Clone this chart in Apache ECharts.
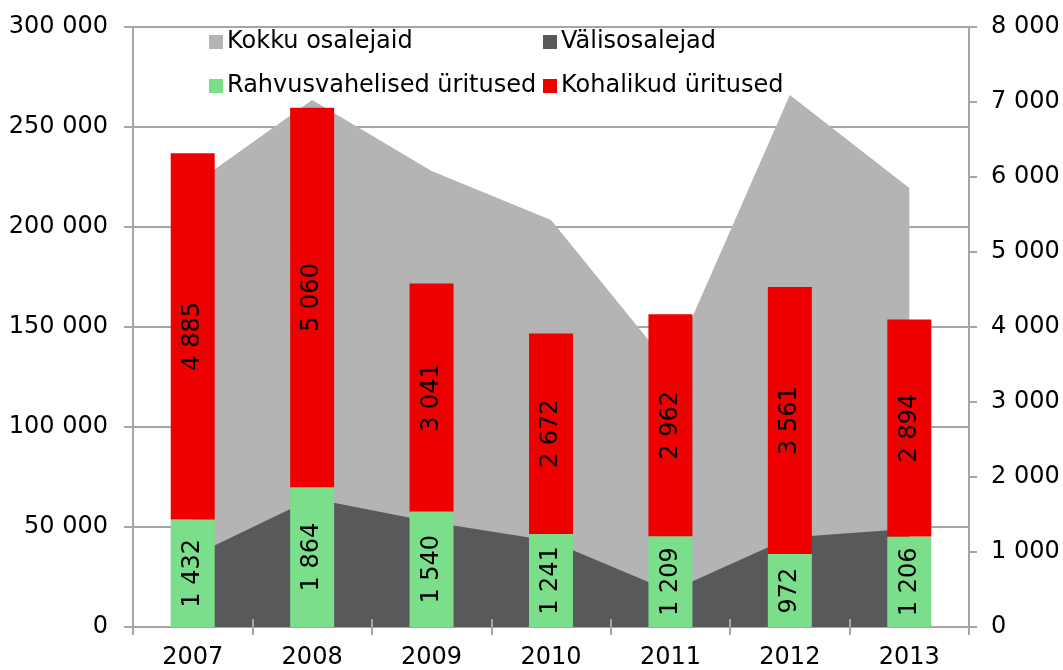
<!DOCTYPE html>
<html>
<head>
<meta charset="utf-8">
<script src="https://cdn.jsdelivr.net/npm/echarts@6/dist/echarts.min.js"></script>
<style>
  html, body { margin: 0; padding: 0; background: #ffffff; }
  #chart { width: 1063px; height: 670px; }
</style>
</head>
<body>
<div id="chart"></div>
<script>
// andmed
const years = ['2007', '2008', '2009', '2010', '2011', '2012', '2013']
const kokkuOsalejaid = [221000, 263500, 228000, 203500, 130000, 266000, 219500]
const valisosalejad = [35500, 64200, 52500, 43000, 17900, 44800, 49100]
const rahvusvahelised = [1432, 1864, 1540, 1241, 1209, 972, 1206]
const kohalikud = [4885, 5060, 3041, 2672, 2962, 3561, 2894]

const font = 'DejaVu Sans'
const fontSize = 24
const gridColor = '#a6a6a6'

// tuhandete eraldaja tühikuga
const fmt = (v) => String(v).replace(/\B(?=(\d{3})+(?!\d))/g, ' ')

const chart = echarts.init(document.getElementById('chart'), null, { renderer: 'canvas' })

const legendBase = {
  icon: 'rect',
  itemWidth: 14,
  itemHeight: 14,
  itemGap: 6,
  padding: 0,
  textStyle: { fontFamily: font, fontSize: fontSize, color: '#000000', padding: [0, 0, 0, -1] },
}

const barLabel = {
  show: true,
  position: 'inside',
  rotate: 90,
  fontFamily: font,
  fontSize: fontSize,
  color: '#000000',
  formatter: (p) => fmt(p.value),
}

const option = {
  backgroundColor: '#ffffff',
  animation: false,
  legend: [
    { ...legendBase, left: 209, top: 30, data: ['Kokku osalejaid'] },
    { ...legendBase, left: 543, top: 30, data: ['Välisosalejad'] },
    { ...legendBase, left: 209, top: 74, data: ['Rahvusvahelised üritused'] },
    { ...legendBase, left: 543, top: 74, data: ['Kohalikud üritused'] },
  ],
  grid: { left: 133, right: 94, top: 27, bottom: 43 },
  xAxis: [
    {
      type: 'category',
      data: years,
      boundaryGap: true,
      axisLine: { lineStyle: { color: gridColor, width: 2 } },
      axisTick: { show: true, length: 8, lineStyle: { color: gridColor, width: 2 } },
      axisLabel: { fontFamily: font, fontSize: fontSize, color: '#000000', margin: 19 },
    },
    {
      // sisemised kriipsud telje kohal
      type: 'category',
      data: years,
      position: 'bottom',
      z: 10,
      axisLine: { show: false },
      axisTick: { show: true, inside: true, length: 8, lineStyle: { color: gridColor, width: 2 } },
      axisLabel: { show: false },
    },
  ],
  yAxis: [
    {
      type: 'value',
      min: 0,
      max: 300000,
      interval: 50000,
      axisLine: { show: true, lineStyle: { color: gridColor, width: 2 } },
      axisTick: { show: true, length: 9, lineStyle: { color: gridColor, width: 2 } },
      axisLabel: { fontFamily: font, fontSize: fontSize, color: '#000000', margin: 25, formatter: fmt },
      splitLine: { show: true, lineStyle: { color: gridColor, width: 2 } },
    },
    {
      type: 'value',
      min: 0,
      max: 8000,
      interval: 1000,
      position: 'right',
      axisLine: { show: true, lineStyle: { color: gridColor, width: 2 } },
      axisTick: { show: true, length: 8, lineStyle: { color: gridColor, width: 2 } },
      axisLabel: { fontFamily: font, fontSize: fontSize, color: '#000000', margin: 22, formatter: fmt },
      splitLine: { show: false },
    },
  ],
  series: [
    {
      name: 'Kokku osalejaid',
      type: 'line',
      yAxisIndex: 0,
      z: 1,
      symbol: 'none',
      lineStyle: { width: 0 },
      itemStyle: { color: '#b4b4b4' },
      areaStyle: { color: '#b4b4b4', opacity: 1 },
      data: kokkuOsalejaid,
    },
    {
      name: 'Välisosalejad',
      type: 'line',
      yAxisIndex: 0,
      z: 1,
      symbol: 'none',
      lineStyle: { width: 0 },
      itemStyle: { color: '#58595b' },
      areaStyle: { color: '#58595b', opacity: 1 },
      data: valisosalejad,
    },
    {
      name: 'Rahvusvahelised üritused',
      type: 'bar',
      yAxisIndex: 1,
      z: 3,
      stack: 'uritused',
      barWidth: 44,
      itemStyle: { color: '#7ade8a' },
      label: barLabel,
      data: rahvusvahelised,
    },
    {
      name: 'Kohalikud üritused',
      type: 'bar',
      yAxisIndex: 1,
      z: 3,
      stack: 'uritused',
      barWidth: 44,
      itemStyle: { color: '#ee0000' },
      label: barLabel,
      data: kohalikud,
    },
  ],
}

chart.setOption(option)
</script>
</body>
</html>
